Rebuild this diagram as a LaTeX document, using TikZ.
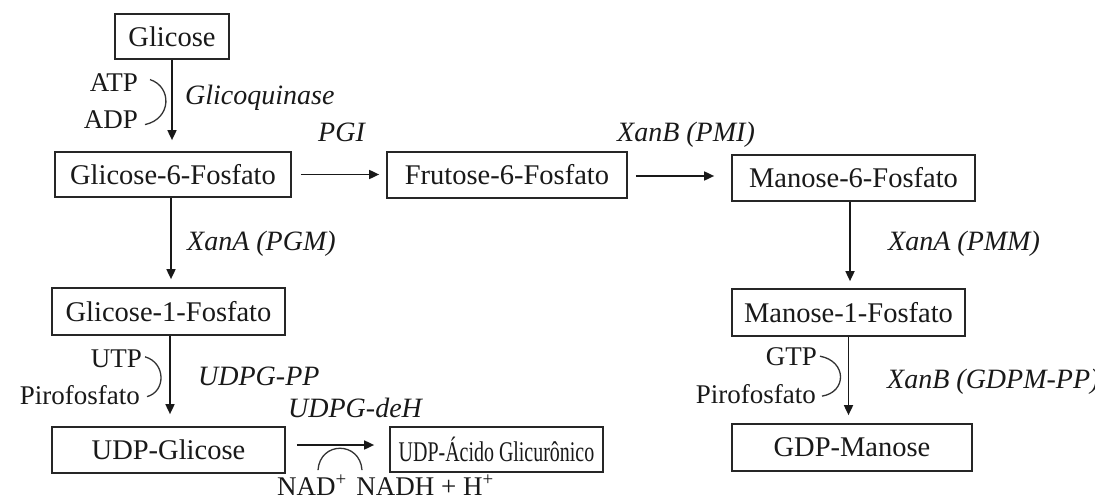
\documentclass[tikz,border=0pt]{standalone}
\usepackage{fontspec}
\setmainfont{Liberation Serif}
\usetikzlibrary{arrows.meta}
\begin{document}
\begin{tikzpicture}[x=1pt,y=-1pt,
  every node/.style={text=black!90},
  box/.style={draw=black!85, line width=1.7pt, inner sep=0pt, font=\fontsize{28.5}{30}\selectfont},
  enz/.style={inner sep=0pt, font=\fontsize{28}{30}\selectfont\itshape, anchor=base west},
  met/.style={inner sep=0pt, font=\fontsize{27}{29}\selectfont, anchor=base east},
  rx/.style={draw=black!90, line width=1.7pt, -{Triangle[length=10pt,width=9pt]}},
  side/.style={draw=black!80, line width=1.3pt}]
\useasboundingbox (0,0) rectangle (1095,500);
\fill[white] (0,0) rectangle (1095,500);

% boxes
\node[box, minimum width=114pt, minimum height=45pt] (glc) at (172,36.5) {Glicose};
\node[box, minimum width=236pt, minimum height=45pt] (g6p) at (173,174.5) {Glicose-6-Fosfato};
\node[box, minimum width=240pt, minimum height=46pt] (f6p) at (507,175) {Frutose-6-Fosfato};
\node[box, minimum width=243pt, minimum height=46pt] (m6p) at (853.5,178) {Manose-6-Fosfato};
\node[box, minimum width=233pt, minimum height=47pt] (g1p) at (168.5,311.5) {Glicose-1-Fosfato};
\node[box, minimum width=233pt, minimum height=46pt] (udpg) at (168.5,450) {UDP-Glicose};
\node[box, minimum width=213pt, minimum height=45pt] (udpga) at (496.5,449.5) {\scalebox{0.7}[1]{UDP-Ácido Glicurônico}};
\node[box, minimum width=233pt, minimum height=47pt] (m1p) at (848.5,312.5) {Manose-1-Fosfato};
\node[box, minimum width=240pt, minimum height=47pt] (gdpm) at (852,447.5) {GDP-Manose};

% enzyme labels
\node[enz] (e1) at (185,105) {Glicoquinase};
\node[enz] (e2) at (318,142) {PGI};
\node[enz] (e3) at (617,142) {XanB (PMI)};
\node[enz] (e4) at (187,250) {XanA (PGM)};
\node[enz] (e5) at (888,250) {XanA (PMM)};
\node[enz] (e6) at (198,385) {UDPG-PP};
\node[enz] (e7) at (288,417) {UDPG-deH};
\begin{scope}
\clip (0,0) rectangle (1095,500);
\node[enz] (e8) at (887,388) {XanB (GDPM-PP)};
\end{scope}

% cofactors
\node[met] (atp) at (138,92) {ATP};
\node[met] (adp) at (138,129) {ADP};
\node[met] (utp) at (142,367) {UTP};
\node[met] (pp1) at (140,404) {Pirofosfato};
\node[met] (gtp) at (817,365) {GTP};
\node[met] (pp2) at (816,403) {Pirofosfato};
\node[met, anchor=base] (nad) at (312,495) {NAD\textsuperscript{+}};
\node[met, anchor=base] (nadh) at (425,495) {NADH + H\textsuperscript{+}};

% main reactions
\draw[rx, shorten >=11pt] (glc.south) -- (glc.south |- g6p.north);
\draw[rx, shorten >=8pt] ([xshift=-2pt]g6p.south) -- ([xshift=-2pt]g6p.south |- g1p.north);
\draw[rx, shorten >=12pt] ([xshift=1.5pt]g1p.south) -- ([xshift=1.5pt]g1p.south |- udpg.north);
\draw[rx, shorten >=7pt] ([xshift=-3.5pt]m6p.south) -- ([xshift=-3.5pt]m6p.south |- m1p.north);
\draw[rx, shorten >=8pt] (m1p.south) -- (m1p.south |- gdpm.north);
\draw[rx, shorten <=9pt, shorten >=7pt] (g6p.east) -- (g6p.east -| f6p.west);
\draw[rx, shorten <=8pt, shorten >=17pt] ([yshift=-1pt]f6p.east) -- ([yshift=-1pt]f6p.east -| m6p.west);
\draw[rx, shorten <=11pt, shorten >=15pt] ([yshift=5pt]udpg.east) -- ([yshift=5pt]udpg.east -| udpga.west);

% side reactions
\draw[side] ([shift={(12,-3.5)}]atp.east) .. controls +(22,7) and +(27,-6) .. ([shift={(7,4.5)}]adp.east);
\draw[side] ([shift={(3,-1.5)}]utp.east) .. controls +(21,6) and +(19,-5) .. ([shift={(7,2)}]pp1.east);
\draw[side] ([shift={(3,0)}]gtp.east) .. controls +(27,5) and +(25,-4) .. ([shift={(6,2.5)}]pp2.east);
\draw[side] ([shift={(6,-5)}]nad.north) .. controls (320,441) and (360,441) .. ([shift={(-63,-5)}]nadh.north);
\end{tikzpicture}
\end{document}
